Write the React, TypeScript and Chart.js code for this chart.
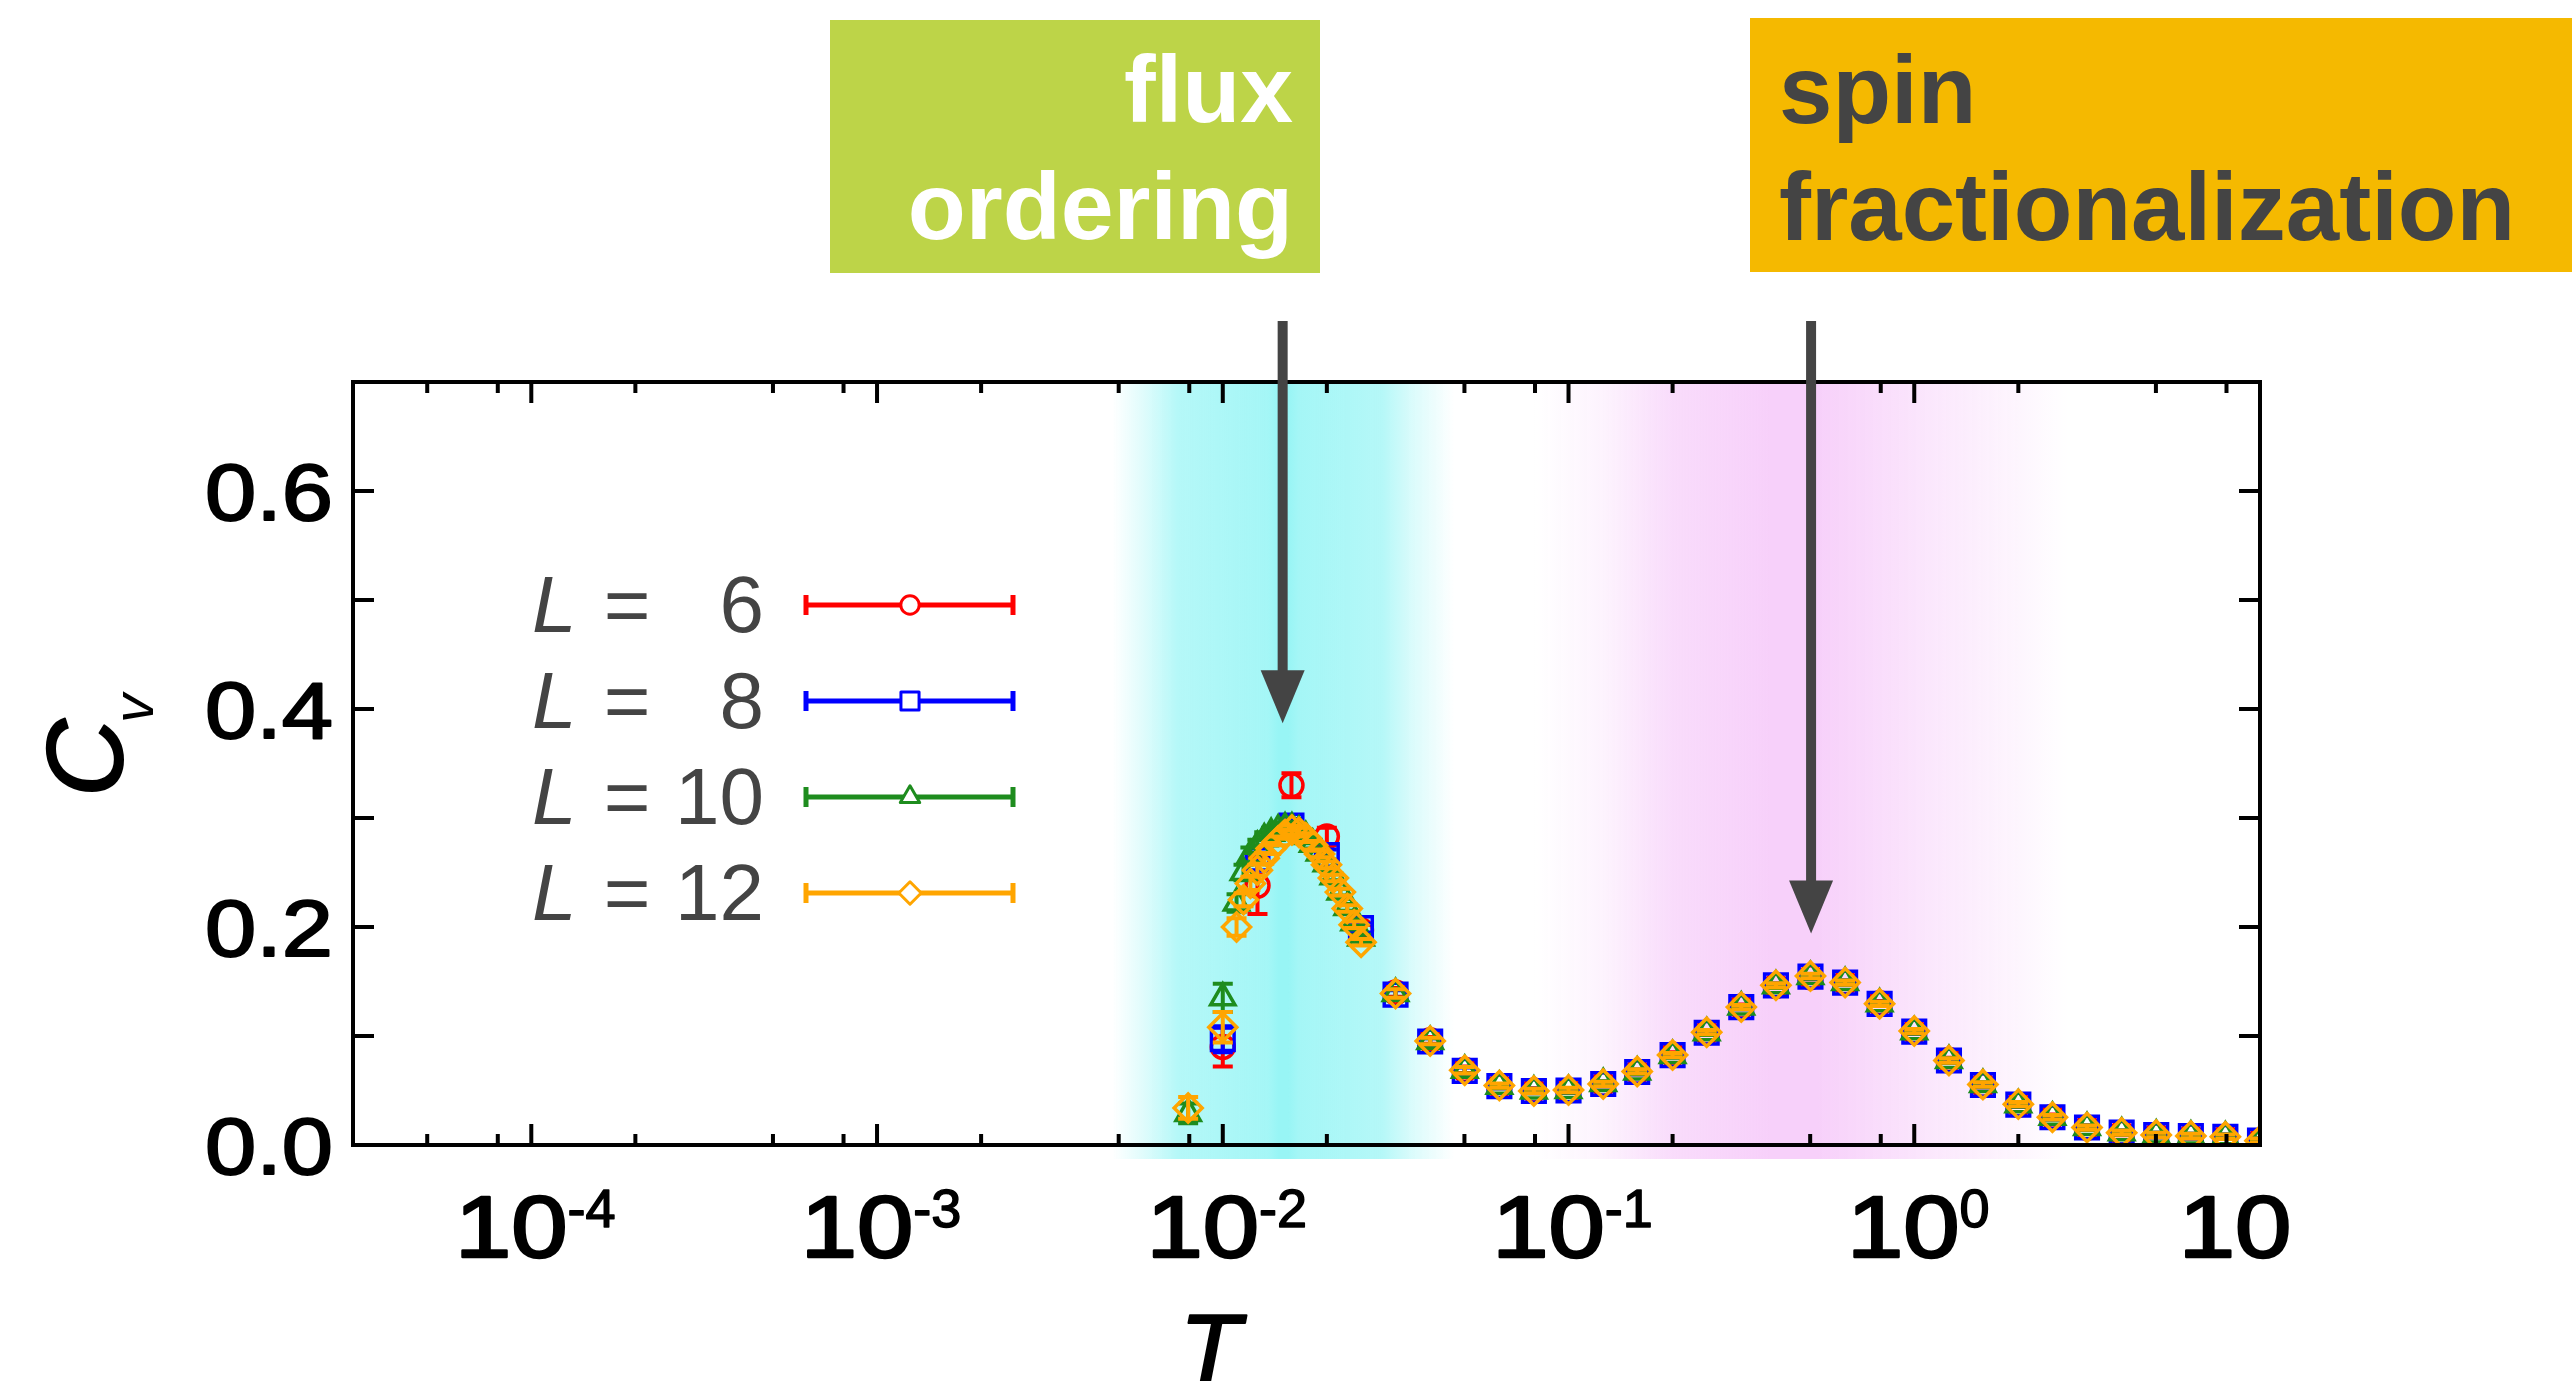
import React, { useEffect, useRef } from "react";
import { Chart, registerables } from "chart.js";

Chart.register(...registerables);

const CANVAS_W = 2572;
const CANVAS_H = 1381;
const FONT = '"Liberation Sans", Arial, Helvetica, sans-serif';

// ---------------- data ----------------
const L_LABELS = ["6", "8", "10", "12"];

// temperatures
const T_PEAK_SMALL_L = [0.01, 0.0126, 0.0158, 0.02, 0.0251];
const T_PEAK_LARGE_L = [
  0.00794, 0.01, 0.01096, 0.01148, 0.01202, 0.01259, 0.01318, 0.0138, 0.01445, 0.01514, 0.01585,
  0.0166, 0.01738, 0.0182, 0.01905, 0.01995, 0.02089, 0.02188, 0.02291, 0.02399, 0.02512,
];
const T_HIGH = [
  0.0316, 0.0398, 0.0501, 0.0631, 0.0794, 0.1, 0.126, 0.158, 0.2, 0.251, 0.316, 0.398, 0.501,
  0.631, 0.794, 1.0, 1.26, 1.58, 2.0, 2.51, 3.16, 3.98, 5.01, 6.31, 7.94, 10,
];

// C_v near the low-T peak
const CV_L6_PEAK = [0.09, 0.238, 0.33, 0.283, 0.197];
const ERR_L6_PEAK = [0.018, 0.026, 0.011, 0.008, 0.005];
const CV_L8_PEAK = [0.097, 0.262, 0.293, 0.266, 0.199];
const ERR_L8_PEAK = [0.012, 0.01, 0.006, 0.005, 0.004];
const CV_L10_PEAK = [
  0.029, 0.135, 0.222, 0.25, 0.266, 0.274, 0.281, 0.286, 0.289, 0.291, 0.291, 0.288, 0.283, 0.276,
  0.268, 0.258, 0.246, 0.232, 0.218, 0.204, 0.19,
];
const ERR_L10_PEAK = [
  0.009, 0.013, 0.008, 0.007, 0.007, 0.006, 0.006, 0.005, 0.005, 0.005, 0.005, 0.004, 0.004, 0.004,
  0.004, 0.004, 0.003, 0.003, 0.003, 0.003, 0.003,
];
const CV_L12_PEAK = [
  0.034, 0.108, 0.2, 0.225, 0.24, 0.252, 0.263, 0.272, 0.279, 0.285, 0.289, 0.287, 0.282, 0.275,
  0.267, 0.257, 0.245, 0.232, 0.217, 0.202, 0.186,
];
const ERR_L12_PEAK = [
  0.01, 0.014, 0.008, 0.006, 0.006, 0.005, 0.005, 0.005, 0.004, 0.004, 0.004, 0.004, 0.004, 0.004,
  0.003, 0.003, 0.003, 0.003, 0.003, 0.003, 0.003,
];

// C_v for T >= 0.0316
const CV_L6_HIGH = [
  0.14, 0.096, 0.069, 0.054, 0.05, 0.05, 0.056, 0.067, 0.083, 0.103, 0.127, 0.146, 0.154, 0.149,
  0.13, 0.104, 0.078, 0.055, 0.037, 0.026, 0.016, 0.011, 0.009, 0.008, 0.0075, 0.004,
];
const CV_L8_HIGH = [
  0.138, 0.095, 0.068, 0.054, 0.0495, 0.05, 0.056, 0.067, 0.0825, 0.103, 0.1265, 0.1465, 0.1545,
  0.149, 0.1295, 0.104, 0.0775, 0.055, 0.037, 0.0255, 0.016, 0.0113, 0.0092, 0.0083, 0.0076, 0.004,
];
const CV_L10_HIGH = [
  0.139, 0.095, 0.0685, 0.054, 0.0495, 0.05, 0.0565, 0.067, 0.082, 0.103, 0.1265, 0.146, 0.1545,
  0.149, 0.1295, 0.104, 0.0775, 0.0555, 0.037, 0.0255, 0.016, 0.0113, 0.0092, 0.0083, 0.0076, 0.004,
];
const CV_L12_HIGH = [
  0.139, 0.0955, 0.0685, 0.0545, 0.0495, 0.0505, 0.056, 0.0675, 0.0825, 0.1035, 0.1265, 0.1465,
  0.155, 0.149, 0.1295, 0.1045, 0.0775, 0.0555, 0.0375, 0.0255, 0.016, 0.0113, 0.0092, 0.0083,
  0.0076, 0.004,
];
const ERR_HIGH = [
  0.004, 0.003, 0.003, 0.002, 0.002, 0.002, 0.002, 0.002, 0.002, 0.002, 0.002, 0.002, 0.002, 0.002,
  0.002, 0.002, 0.002, 0.002, 0.002, 0.002, 0.002, 0.002, 0.002, 0.002, 0.002, 0.002,
];

// axis ticks
const X_MAJOR_TICKS = [1e-4, 1e-3, 1e-2, 1e-1, 1, 10];
const X_MAJOR_EXPONENTS = ["-4", "-3", "-2", "-1", "0", ""];
const X_MINOR_TICKS = [
  5e-5, 8e-5, 2e-4, 5e-4, 8e-4, 2e-3, 5e-3, 8e-3, 2e-2, 5e-2, 8e-2, 0.2, 0.5, 0.8, 2, 5, 8,
];
const Y_LABEL_TICKS = [0, 0.2, 0.4, 0.6];
const Y_ALL_TICKS = [0.1, 0.2, 0.3, 0.4, 0.5, 0.6];

// shaded temperature bands (T, relative intensity)
const CYAN_BAND_T = [0.00479, 0.00589, 0.00741, 0.01349, 0.01445, 0.01549, 0.0166, 0.02884, 0.03548, 0.04677];
const CYAN_BAND_LEVEL = [0, 0.3, 0.72, 0.88, 1, 1, 0.88, 0.72, 0.35, 0];
const PINK_BAND_T = [0.0794, 0.126, 0.2, 0.38, 0.525, 1.12, 2.0, 2.82];
const PINK_BAND_LEVEL = [0, 0.25, 0.75, 1, 1, 0.5, 0.2, 0];

// arrows: temperature and C_v of the arrow tip
const ARROW_T = [0.0149, 0.503];
const ARROW_TIP_CV = [0.387, 0.194];

// annotation texts
const FLUX_LINES = ["flux", "ordering"];
const SPIN_LINES = ["spin", "fractionalization"];

// ---------------- series definitions ----------------
const SERIES = [
  {
    label: L_LABELS[0], color: "#FF0000", style: "circle", radius: 11.5, order: 4,
    T: [...T_PEAK_SMALL_L, ...T_HIGH], cv: [...CV_L6_PEAK, ...CV_L6_HIGH], err: [...ERR_L6_PEAK, ...ERR_HIGH],
  },
  {
    label: L_LABELS[1], color: "#0000FF", style: "rect", radius: 16, order: 3,
    T: [...T_PEAK_SMALL_L, ...T_HIGH], cv: [...CV_L8_PEAK, ...CV_L8_HIGH], err: [...ERR_L8_PEAK, ...ERR_HIGH],
  },
  {
    label: L_LABELS[2], color: "#1E8C1E", style: "triangle", radius: 14, order: 2,
    T: [...T_PEAK_LARGE_L, ...T_HIGH], cv: [...CV_L10_PEAK, ...CV_L10_HIGH], err: [...ERR_L10_PEAK, ...ERR_HIGH],
  },
  {
    label: L_LABELS[3], color: "#FFA500", style: "rectRot", radius: 14, order: 1,
    T: [...T_PEAK_LARGE_L, ...T_HIGH], cv: [...CV_L12_PEAK, ...CV_L12_HIGH], err: [...ERR_L12_PEAK, ...ERR_HIGH],
  },
];

// ---------------- helpers ----------------
const px = (chart: any, t: number) => chart.scales.x.getPixelForValue(t);
const py = (chart: any, v: number) => chart.scales.y.getPixelForValue(v);

function markerPath(ctx: CanvasRenderingContext2D, style: string, x: number, y: number, r: number) {
  ctx.beginPath();
  if (style === "circle") {
    ctx.arc(x, y, r, 0, Math.PI * 2);
  } else if (style === "rect") {
    const s = Math.SQRT1_2 * r;
    ctx.rect(x - s, y - s, 2 * s, 2 * s);
  } else if (style === "triangle") {
    let rad = 0;
    ctx.moveTo(x + Math.sin(rad) * r, y - Math.cos(rad) * r);
    rad += (2 * Math.PI) / 3;
    ctx.lineTo(x + Math.sin(rad) * r, y - Math.cos(rad) * r);
    rad += (2 * Math.PI) / 3;
    ctx.lineTo(x + Math.sin(rad) * r, y - Math.cos(rad) * r);
    ctx.closePath();
  } else {
    ctx.moveTo(x - r, y);
    ctx.lineTo(x, y - r);
    ctx.lineTo(x + r, y);
    ctx.lineTo(x, y + r);
    ctx.closePath();
  }
}

// heavier text: fill plus a thin stroke of the same colour
function heavyText(ctx: CanvasRenderingContext2D, text: string, x: number, y: number, w: number) {
  ctx.fillText(text, x, y);
  ctx.lineWidth = w;
  ctx.lineJoin = "round";
  ctx.strokeText(text, x, y);
}

// ---------------- plugins ----------------
const bandPlugin = {
  id: "bands",
  beforeDatasetsDraw(chart: any) {
    const { ctx, chartArea } = chart;
    const drawBand = (Ts: number[], levels: number[], rgb: string) => {
      const x0 = px(chart, Ts[0]);
      const x1 = px(chart, Ts[Ts.length - 1]);
      const g = ctx.createLinearGradient(x0, 0, x1, 0);
      Ts.forEach((t, i) => {
        const f = Math.min(1, Math.max(0, (px(chart, t) - x0) / (x1 - x0)));
        g.addColorStop(f, `rgba(${rgb},${levels[i]})`);
      });
      ctx.fillStyle = g;
      ctx.fillRect(x0, chartArea.top, x1 - x0, chartArea.bottom - chartArea.top + 14);
    };
    ctx.save();
    drawBand(CYAN_BAND_T, CYAN_BAND_LEVEL, "152,245,245");
    drawBand(PINK_BAND_T, PINK_BAND_LEVEL, "247,208,250");
    ctx.restore();
  },
};

const errorBarPlugin = {
  id: "errorBars",
  beforeDatasetDraw(chart: any, args: any) {
    const ds = chart.data.datasets[args.index];
    const errs = ds.errors;
    if (!errs) return;
    const { ctx, chartArea } = chart;
    ctx.save();
    ctx.beginPath();
    ctx.rect(chartArea.left, chartArea.top, chartArea.right - chartArea.left, chartArea.bottom - chartArea.top);
    ctx.clip();
    ctx.strokeStyle = ds.borderColor;
    ctx.lineWidth = 4;
    ds.data.forEach((p: any, i: number) => {
      const e = errs[i];
      if (!e) return;
      const x = px(chart, p.x);
      const yTop = py(chart, p.y + e);
      const yBot = py(chart, p.y - e);
      ctx.beginPath();
      ctx.moveTo(x, yTop);
      ctx.lineTo(x, yBot);
      ctx.moveTo(x - 10, yTop);
      ctx.lineTo(x + 10, yTop);
      ctx.moveTo(x - 10, yBot);
      ctx.lineTo(x + 10, yBot);
      ctx.stroke();
    });
    ctx.restore();
  },
};

const framePlugin = {
  id: "frame",
  afterDatasetsDraw(chart: any) {
    const { ctx, chartArea } = chart;
    const { left, right, top, bottom } = chartArea;
    ctx.save();
    ctx.strokeStyle = "#000";
    ctx.lineWidth = 4;
    ctx.lineCap = "butt";
    ctx.beginPath();
    const xt = (t: number, len: number) => {
      const x = px(chart, t);
      ctx.moveTo(x, bottom);
      ctx.lineTo(x, bottom - len);
      ctx.moveTo(x, top);
      ctx.lineTo(x, top + len);
    };
    X_MAJOR_TICKS.forEach((t) => xt(t, 21));
    X_MINOR_TICKS.forEach((t) => xt(t, 11));
    Y_ALL_TICKS.forEach((v) => {
      const y = py(chart, v);
      ctx.moveTo(left, y);
      ctx.lineTo(left + 21, y);
      ctx.moveTo(right, y);
      ctx.lineTo(right - 21, y);
    });
    ctx.stroke();
    ctx.strokeRect(left, top, right - left, bottom - top);
    ctx.restore();
  },
};

const annotationPlugin = {
  id: "annotations",
  afterDraw(chart: any) {
    const { ctx, chartArea } = chart;
    ctx.save();

    // y tick labels
    ctx.fillStyle = "#000";
    ctx.strokeStyle = "#000";
    ctx.font = `80px ${FONT}`;
    ctx.textAlign = "right";
    ctx.textBaseline = "alphabetic";
    Y_LABEL_TICKS.forEach((v) => {
      const y = py(chart, v);
      ctx.save();
      ctx.translate(chartArea.left - 20, y + 29);
      ctx.scale(1.15, 1);
      heavyText(ctx, v.toFixed(1), 0, 0, 2);
      ctx.restore();
    });

    // x tick labels with superscripts
    ctx.textAlign = "left";
    X_MAJOR_TICKS.forEach((t, i) => {
      const x = px(chart, t);
      const exp = X_MAJOR_EXPONENTS[i];
      ctx.font = `88px ${FONT}`;
      const wBase = ctx.measureText("10").width * 1.15;
      ctx.font = `54px ${FONT}`;
      const wExp = exp ? ctx.measureText(exp).width : 0;
      const start = exp ? x - (wBase + wExp) / 2 + 4 : x - 25 - wBase / 2;
      ctx.save();
      ctx.translate(start, 1257);
      ctx.scale(1.15, 1);
      ctx.font = `88px ${FONT}`;
      heavyText(ctx, "10", 0, 0, 2.5);
      ctx.restore();
      if (exp) {
        ctx.font = `54px ${FONT}`;
        heavyText(ctx, exp, start + wBase, 1227, 1.5);
      }
    });

    // x axis title
    ctx.font = `italic 100px ${FONT}`;
    ctx.textAlign = "center";
    heavyText(ctx, "T", 1210, 1384, 2);

    // y axis title C_v (rotated)
    ctx.save();
    ctx.translate(122, 797);
    ctx.rotate(-Math.PI / 2);
    ctx.textAlign = "left";
    ctx.font = `italic 108px ${FONT}`;
    heavyText(ctx, "C", 0, 0, 2);
    const wC = ctx.measureText("C").width;
    ctx.font = `italic 58px ${FONT}`;
    ctx.fillText("v", wC - 4, 31);
    ctx.restore();

    // legend
    SERIES.forEach((s, i) => {
      const cy = 605 + i * 96;
      const base = cy + 27;
      ctx.fillStyle = "#444";
      ctx.textAlign = "left";
      ctx.font = `italic 80px ${FONT}`;
      ctx.fillText("L", 532, base);
      ctx.font = `80px ${FONT}`;
      ctx.textAlign = "center";
      ctx.fillText("=", 627, base);
      ctx.textAlign = "right";
      ctx.fillText(s.label, 764, base);
      // symbol
      ctx.strokeStyle = s.color;
      ctx.lineWidth = 5;
      ctx.beginPath();
      ctx.moveTo(806, cy);
      ctx.lineTo(1013, cy);
      ctx.moveTo(806, cy - 10);
      ctx.lineTo(806, cy + 10);
      ctx.moveTo(1013, cy - 10);
      ctx.lineTo(1013, cy + 10);
      ctx.stroke();
      ctx.lineWidth = 3;
      markerPath(ctx, s.style, 910, cy, s.radius * 0.8);
      ctx.fillStyle = "#fff";
      ctx.fill();
      ctx.stroke();
    });

    // annotation boxes
    ctx.fillStyle = "#BDD448";
    ctx.fillRect(830, 20, 490, 253);
    ctx.fillStyle = "#F5B900";
    ctx.fillRect(1750, 18, CANVAS_W - 1750, 254);

    ctx.font = `bold 95px ${FONT}`;
    ctx.fillStyle = "#fff";
    ctx.textAlign = "right";
    ctx.fillText(FLUX_LINES[0], 1293, 122);
    ctx.fillText(FLUX_LINES[1], 1293, 239);
    ctx.font = `bold 96px ${FONT}`;
    ctx.fillStyle = "#444";
    ctx.textAlign = "left";
    ctx.fillText(SPIN_LINES[0], 1779, 123);
    ctx.fillText(SPIN_LINES[1], 1779, 240);

    // arrows
    ctx.fillStyle = "#444";
    ctx.strokeStyle = "#444";
    ARROW_T.forEach((t, i) => {
      const x = px(chart, t);
      const tip = py(chart, ARROW_TIP_CV[i]);
      ctx.lineWidth = 10;
      ctx.beginPath();
      ctx.moveTo(x, 321);
      ctx.lineTo(x, tip - 50);
      ctx.stroke();
      ctx.beginPath();
      ctx.moveTo(x - 22, tip - 53);
      ctx.lineTo(x + 22, tip - 53);
      ctx.lineTo(x, tip);
      ctx.closePath();
      ctx.fill();
    });

    ctx.restore();
  },
};

export default function App() {
  const canvasRef = useRef<HTMLCanvasElement | null>(null);

  useEffect(() => {
    const canvas = canvasRef.current;
    if (!canvas) return;
    const datasets = SERIES.map((s) => ({
      label: `L = ${s.label}`,
      data: s.T.map((t, i) => ({ x: t, y: s.cv[i] })),
      errors: s.err,
      borderColor: s.color,
      backgroundColor: "rgba(255,255,255,0)",
      pointStyle: s.style,
      pointRadius: s.radius,
      pointBorderWidth: 3.5,
      pointHoverRadius: s.radius,
      showLine: false,
      order: s.order,
    }));

    const chart = new Chart(canvas, {
      type: "scatter",
      data: { datasets } as any,
      options: {
        animation: false,
        responsive: false,
        devicePixelRatio: 1,
        events: [],
        layout: { padding: { top: 382, right: CANVAS_W - 2260, left: 0, bottom: 0 } },
        plugins: { legend: { display: false }, tooltip: { enabled: false } },
        scales: {
          x: {
            type: "logarithmic",
            min: 3.05e-5,
            max: 10,
            ticks: { display: false },
            grid: { display: false },
            border: { display: false },
            afterFit: (scale: any) => {
              scale.height = CANVAS_H - 1145;
            },
          },
          y: {
            type: "linear",
            min: 0,
            max: 0.7,
            ticks: { display: false },
            grid: { display: false },
            border: { display: false },
            afterFit: (scale: any) => {
              scale.width = 353;
            },
          },
        },
      } as any,
      plugins: [bandPlugin, errorBarPlugin, framePlugin, annotationPlugin],
    });
    return () => chart.destroy();
  }, []);

  return (
    <div style={{ position: "absolute", left: 0, top: 0, width: CANVAS_W, height: CANVAS_H, background: "#fff" }}>
      <canvas ref={canvasRef} width={CANVAS_W} height={CANVAS_H} style={{ width: CANVAS_W, height: CANVAS_H, display: "block" }} />
    </div>
  );
}
